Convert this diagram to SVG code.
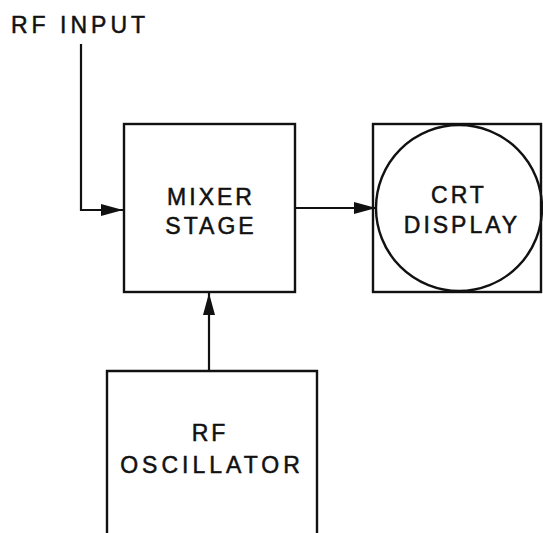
<svg xmlns="http://www.w3.org/2000/svg" width="543" height="533" viewBox="0 0 543 533">
<defs>
<style>
.box{fill:none;stroke:#111;stroke-width:2.4}
.ln{fill:none;stroke:#111;stroke-width:2.2}
.t{font-family:"Liberation Sans",Arial,sans-serif;font-size:23px;fill:#111;stroke:#111;stroke-width:0.5;letter-spacing:3px}
.w{letter-spacing:4px}
</style>
<marker id="ah" markerWidth="22" markerHeight="12" refX="22" refY="6" orient="auto" markerUnits="userSpaceOnUse">
<path d="M0,0 L22,6 L0,12 Z" fill="#111"/>
</marker>
</defs>
<rect width="543" height="533" fill="#fff"/>
<g id="rf-input-label">
<text class="t w" x="11" y="33">RF INPUT</text>
</g>
<g id="mixer">
<rect class="box" x="124" y="124" width="171" height="168"/>
<text class="t" x="211" y="205" text-anchor="middle">MIXER</text>
<text class="t" x="211" y="234" text-anchor="middle">STAGE</text>
</g>
<g id="crt">
<rect class="box" x="373" y="124" width="168" height="168"/>
<circle class="box" cx="459" cy="208" r="83"/>
<text class="t" x="459" y="203" text-anchor="middle">CRT</text>
<text class="t" x="462" y="233" text-anchor="middle">DISPLAY</text>
</g>
<g id="oscillator">
<path class="box" d="M107,540 L107,371 L317,371 L317,540"/>
<text class="t" x="210" y="441" text-anchor="middle">RF</text>
<text class="t w" x="212" y="473" text-anchor="middle">OSCILLATOR</text>
</g>
<g id="connectors">
<path class="ln" d="M81,44 L81,210 L123,210" marker-end="url(#ah)"/>
<path class="ln" d="M295,208 L376,208" marker-end="url(#ah)"/>
<path class="ln" d="M209,371 L209,293" marker-end="url(#ah)"/>
</g>
</svg>
